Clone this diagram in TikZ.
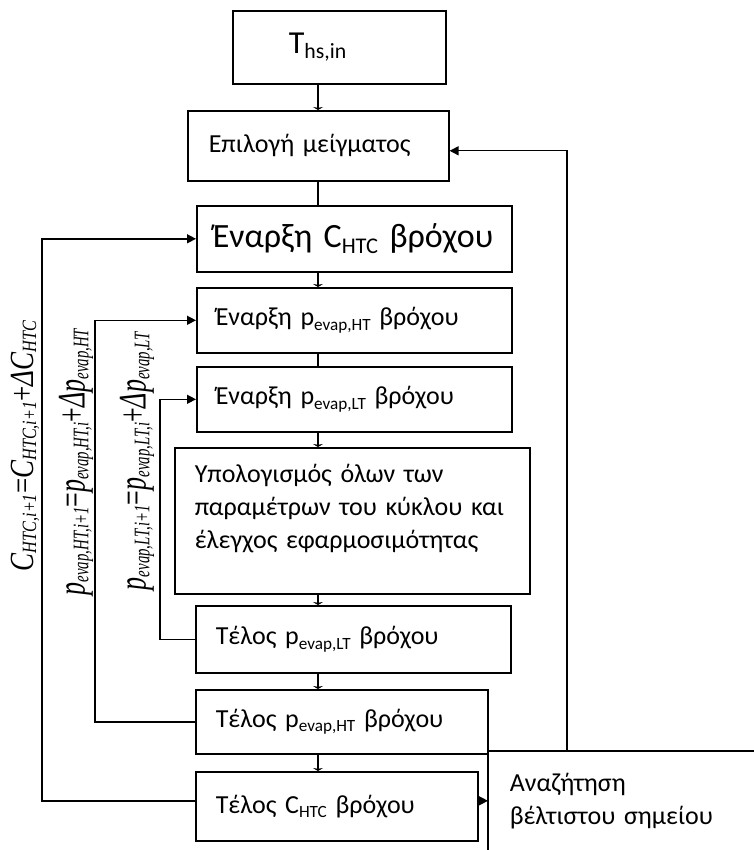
\documentclass[tikz,border=0pt]{standalone}
\usepackage{fontspec}
\setmainfont{Carlito}
\newfontfamily\tmsfont{Liberation Serif}
\usepackage{graphicx}
\usetikzlibrary{arrows.meta, positioning}

\newcommand{\lo}[2][0.66]{\raisebox{-0.35ex}{\scalebox{#1}{#2}}}
\newcommand{\ix}[2][0.45]{\raisebox{-0.2ex}{\scalebox{#1}{#2}}}

\tikzset{
  blk/.style={draw, line width=1.6pt, anchor=north west, align=left, inner ysep=0pt, font=\fontsize{26}{33}\selectfont},
  lbl/.style={rotate=90, inner sep=0pt, font=\tmsfont\itshape\fontsize{26}{26}\selectfont},
  tip/.style={-{Stealth[length=3pt,width=10pt]}},
  tri/.style={-{Triangle[length=9pt,width=9pt]}}
}

\begin{document}
\begin{tikzpicture}[x=1pt, y=-1pt, line width=1.4pt]
  \useasboundingbox (0,0) rectangle (753,850);

  % Main chain
  \node[blk, minimum width=213pt, minimum height=73pt, inner xsep=56pt, text width=101pt, font=\fontsize{32}{36}\selectfont] (ths) at (232,10) {T\lo[0.68]{hs,in}};
  \node[blk, minimum width=261pt, minimum height=70pt, inner xsep=21pt, text width=219pt] (mix) at (187,110) {Επιλογή μείγματος};
  \node[blk, minimum width=315pt, minimum height=66pt, inner xsep=16pt, text width=283pt, font=\fontsize{34}{38}\selectfont] (cstart) at (196,205) {Έναρξη C\lo{HTC} βρόχου};
  \node[blk, minimum width=315pt, minimum height=65pt, inner xsep=19pt, text width=277pt] (htstart) at (196,287) {Έναρξη p\lo{evap,HT} βρόχου};
  \node[blk, minimum width=315pt, minimum height=65pt, inner xsep=19pt, text width=277pt] (ltstart) at (196,366) {Έναρξη p\lo{evap,LT} βρόχου};
  \node[blk, inner xsep=20pt, text width=315pt, inner ysep=15pt, text height=20pt, text depth=96pt] (calc) at (174,447)
    {\makebox[315pt][s]{Υπολογισμός όλων των}\\ \makebox[315pt][s]{παραμέτρων του κύκλου και}\\ έλεγχος εφαρμοσιμότητας};
  \node[blk, minimum width=315pt, minimum height=67pt, inner xsep=20pt, text width=275pt] (ltend) at (195,605) {Τέλος p\lo{evap,LT} βρόχου};
  \node[blk, minimum width=292pt, minimum height=64pt, inner xsep=20pt, text width=252pt] (htend) at (195,689) {Τέλος p\lo{evap,HT} βρόχου};
  \node[blk, minimum width=282pt, minimum height=69pt, inner xsep=20pt, text width=242pt] (cend) at (195,771) {Τέλος C\lo{HTC} βρόχου};

  % Search box (cut at the page edge)
  \node[blk, draw=none, minimum width=265pt, minimum height=99pt, inner xsep=21pt, text width=223pt] (srch) at (488,751) {Αναζήτηση\\ βέλτιστου σημείου};
  \draw (srch.south west) -- (srch.north west) -- (srch.north east);

  % Increment labels
  \node[lbl, font=\tmsfont\itshape\fontsize{27}{27}\selectfont] (dc) at (25,446)
    {\scalebox{1}[1.25]{C\ix[0.6]{HTC,i+1}{\upshape=}C\ix[0.6]{HTC,i+1}{\upshape+}ΔC\ix[0.6]{HTC}}};
  \node[lbl] (dht) at (76,462)
    {\scalebox{1}[1.5]{p\ix[0.57]{evap,HT,i+1}{\upshape=}p\ix[0.57]{evap,HT,i}{\upshape+}Δp\ix[0.57]{evap,HT}}};
  \node[lbl] (dlt) at (137,461)
    {\scalebox{1}[1.5]{p\ix[0.57]{evap,LT,i+1}{\upshape=}p\ix[0.57]{evap,LT,i}{\upshape+}Δp\ix[0.57]{evap,LT}}};

  % Spine
  \coordinate (sp) at (318,0);
  \draw[tip] (sp |- ths.south) -- (sp |- mix.north);
  \draw (sp |- mix.south) -- (sp |- cstart.north);
  \draw[tip] (sp |- cstart.south) -- (sp |- htstart.north);
  \draw (sp |- htstart.south) -- (sp |- ltstart.north);
  \draw[tip] (sp |- ltstart.south) -- (sp |- calc.north);
  \draw[tip] (sp |- calc.south) -- (sp |- ltend.north);
  \draw[tip] (sp |- ltend.south) -- (sp |- htend.north);
  \draw[tip] (sp |- htend.south) -- (sp |- cend.north);

  % Loops
  \draw[tri] (ltend.west) -- ++(-35,0) |- (ltstart.west);
  \draw[tri] (htend.west) -- ++(-100,0) |- (htstart.west);
  \draw[tri] ([yshift=5.5pt]cend.west) -- ++(-153,0) |- (cstart.west);

  % Out to search and back
  \draw[tri] ([yshift=5.5pt]cend.east) -- ([yshift=5.5pt]cend.east -| srch.west);
  \draw[tri] ([xshift=79pt]srch.north west) |- ([yshift=-5pt]mix.east);
\end{tikzpicture}
\end{document}
